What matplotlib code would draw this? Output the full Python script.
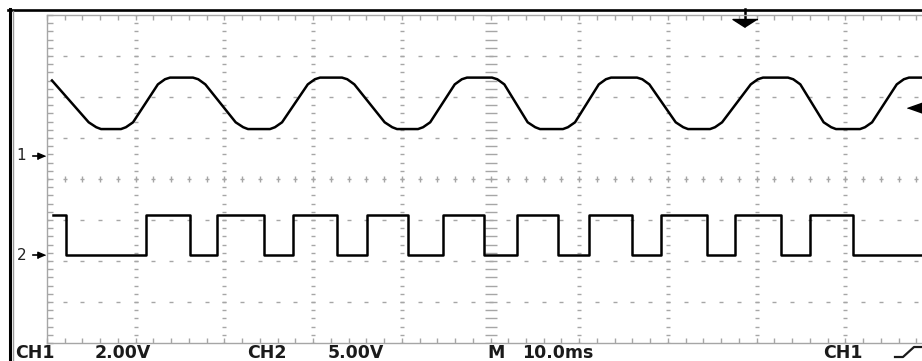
import numpy as np
import matplotlib
matplotlib.use("Agg")
import matplotlib.pyplot as plt
from matplotlib.lines import Line2D

# ---- CH1: 60 Hz sine, vertices of the captured trace (time ms, volts) ----
ch1_t = [0.56,
         4.70, 5.55, 6.09, 8.34, 8.90, 9.70, 12.50, 13.30, 13.87, 16.46, 17.05, 17.85,
         21.27, 22.12, 22.66, 25.14, 25.70, 26.50, 29.40, 30.20, 30.78, 33.26, 33.85, 34.65,
         38.07, 38.92, 39.46, 41.83, 42.40, 43.20, 45.97, 46.77, 47.35, 50.17, 50.76, 51.56,
         54.19, 55.04, 55.58, 58.17, 58.73, 59.53, 62.21, 63.01, 63.59, 66.52, 67.11, 67.91,
         70.88, 71.73, 72.27, 74.75, 75.31, 76.11, 79.34, 80.14, 80.72, 83.54, 84.13, 84.93,
         87.56, 88.41, 88.95, 91.66, 92.22, 93.02, 95.80, 96.60, 97.18, 100.0]
ch1_v = [3.66,
         1.62, 1.38, 1.29, 1.29, 1.38, 1.62, 3.47, 3.72, 3.80, 3.80, 3.72, 3.47,
         1.62, 1.38, 1.29, 1.29, 1.38, 1.62, 3.47, 3.72, 3.80, 3.80, 3.72, 3.47,
         1.62, 1.38, 1.29, 1.29, 1.38, 1.62, 3.47, 3.72, 3.80, 3.80, 3.72, 3.47,
         1.62, 1.38, 1.29, 1.29, 1.38, 1.62, 3.47, 3.72, 3.80, 3.80, 3.72, 3.47,
         1.62, 1.38, 1.29, 1.29, 1.38, 1.62, 3.47, 3.72, 3.80, 3.80, 3.72, 3.47,
         1.62, 1.38, 1.29, 1.29, 1.38, 1.62, 3.47, 3.72, 3.80, 3.80]

# ---- CH2: pulse train, level held from each edge time (ms, volts) ----
ch2_t = [0.68, 2.11, 11.13, 16.12, 19.13, 24.50, 27.77, 32.73, 36.04, 40.73,
         44.68, 49.30, 52.95, 57.64, 61.14, 65.92, 69.22, 74.37, 77.56, 82.75,
         86.02, 90.90, 100.0]
ch2_v = [4.9, 0.0, 4.9, 0.0, 4.9, 0.0, 4.9, 0.0, 4.9, 0.0,
         4.9, 0.0, 4.9, 0.0, 4.9, 0.0, 4.9, 0.0, 4.9, 0.0,
         4.9, 0.0, 0.0]

# ---- scope settings ----
ch1_scale = 2.0          # V/div
ch2_scale = 5.0          # V/div
time_scale = 10.0        # ms/div
ch1_ground_div = 0.573   # ground reference positions on the screen (div)
ch2_ground_div = -1.854
trigger_level = 2.3      # V on CH1
trigger_time = 78.7      # ms

status_labels = [("CH1", 15), ("2.00V", 95), ("CH2", 247), ("5.00V", 328),
                 ("M", 487), ("10.0ms", 522), ("CH1", 823)]

W, H = 922, 361
fig = plt.figure(figsize=(W / 100, H / 100), dpi=100)
fig.patch.set_facecolor("white")

# graticule area (10 x 8 divisions); right edge runs past the figure
left_px, top_px, div_w, div_h = 47, 15, 88.7, 41.0
pos = [left_px / W, (H - top_px - 8 * div_h) / H, 10 * div_w / W, 8 * div_h / H]

ax = fig.add_axes(pos)
ax.set_xlim(0, 10 * time_scale)
ax.set_ylim(-4, 4)
grid_c = "#a6a6a6"
for s in ax.spines.values():
    s.set_color(grid_c)
    s.set_linewidth(1.0)
minor_t = np.arange(0, 100.01, time_scale / 5)
minor_d = np.arange(-4, 4.01, 0.2)
ax.set_xticks(minor_t)
ax.set_yticks(minor_d)
ax.tick_params(axis="x", direction="in", length=3.5, width=1, color=grid_c,
               top=True, bottom=True, labelbottom=False)
ax.tick_params(axis="y", direction="in", length=4, width=1, color=grid_c,
               left=True, right=True, labelleft=False)

# dotted graticule
for t in np.arange(10, 100, 10):
    if t == 50:
        continue
    ax.plot(np.full_like(minor_d, t), minor_d, ls="none", marker="_",
            ms=2.4, mew=1.0, color=grid_c)
for d in range(-3, 4):
    if d == 0:
        continue
    ax.plot(minor_t, np.full_like(minor_t, d), ls="none", marker="_",
            ms=3.0, mew=1.0, color=grid_c)
# centre crosshair with finer marks
ax.plot(np.full_like(minor_d, 50), minor_d, ls="none", marker="_",
        ms=8, mew=1.0, color=grid_c)
ax.plot(minor_t, np.zeros_like(minor_t), ls="none", marker="|",
        ms=4.0, mew=1.0, color=grid_c)
ax.plot(minor_t, np.zeros_like(minor_t), ls="none", marker="_",
        ms=3.0, mew=1.0, color=grid_c)

# channel axes share the screen, each in its own volts
def channel_axes(scale, ground_div):
    a = fig.add_axes(pos, sharex=ax)
    a.set_ylim((-4 - ground_div) * scale, (4 - ground_div) * scale)
    a.patch.set_visible(False)
    a.axis("off")
    return a

ax1 = channel_axes(ch1_scale, ch1_ground_div)
ax2 = channel_axes(ch2_scale, ch2_ground_div)

ax1.plot(ch1_t, ch1_v, color="black", lw=1.8, solid_joinstyle="round")
ax2.plot(ch2_t, ch2_v, color="black", lw=1.8, drawstyle="steps-post")

# ground markers "1 ->" and "2 ->"
arrow_head = [(0, 0), (-1.3, 0.55), (-1.3, -0.55)]
for a, label in ((ax1, "1"), (ax2, "2")):
    a.plot([-1.6, -0.8], [0, 0], color="black", lw=1.2, clip_on=False)
    a.plot([-0.25], [0], ls="none", marker=arrow_head, ms=11,
           color="black", clip_on=False)
    a.text(-2.9, 0, label, ha="center", va="center", fontsize=11,
           family="DejaVu Sans", color="#222222", clip_on=False)

# trigger level marker on the right edge
ax1.plot([97.0], [trigger_level], ls="none",
         marker=[(0, 0), (1.7, 0.6), (1.7, -0.6)], ms=24,
         color="black", clip_on=False)

# trigger position marker at the top
ax.plot([trigger_time, trigger_time], [4.15, 3.8], color="black", lw=1.8,
        clip_on=False)
ax.plot([trigger_time], [3.71], ls="none",
        marker=[(0, 0), (-1.5, 0.96), (1.5, 0.96)], ms=18, color="black",
        clip_on=False)

# outer bezel lines
fig.add_artist(Line2D([8 / W, 1.0], [1 - 10 / H, 1 - 10 / H],
                      transform=fig.transFigure, color="black", lw=1.9))
fig.add_artist(Line2D([10 / W, 10 / W], [0, 1 - 9 / H],
                      transform=fig.transFigure, color="black", lw=2.2))
fig.add_artist(Line2D([12.5 / W, 12.5 / W], [0, 1 - 11 / H],
                      transform=fig.transFigure, color="#9a9a9a", lw=1.0))

# status line
for text, x in status_labels:
    fig.text(x / W, 3 / H, text, ha="left", va="baseline", fontsize=12.5,
             family="DejaVu Sans", fontweight="bold", color="#1a1a1a")
# rising-edge trigger slope symbol
fig.add_artist(Line2D(np.array([895, 903, 914, 923]) / W,
                      1 - np.array([357, 357, 347, 347]) / H,
                      transform=fig.transFigure, color="#1a1a1a", lw=1.6))

fig.savefig("out.png", dpi=100, facecolor="white")
